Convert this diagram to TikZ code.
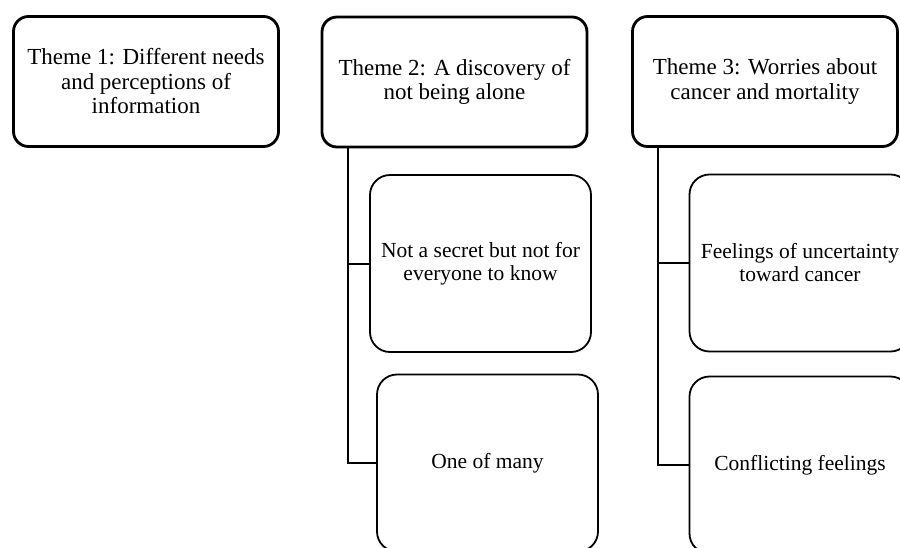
\documentclass[tikz,border=0pt]{standalone}
\usepackage{fontspec}
\setmainfont{Liberation Serif}
\begin{document}
\begin{tikzpicture}[x=1pt,y=-1pt,
  theme/.style={draw,line width=2.8pt,rounded corners=15pt,align=center,
    minimum width=265pt,minimum height=130pt,inner sep=0pt,
    font=\fontsize{23}{24.5}\selectfont},
  sub/.style={draw,line width=1.8pt,rounded corners=20pt,align=center,
    minimum width=221pt,minimum height=177pt,inner sep=0pt,
    font=\fontsize{21.5}{23}\selectfont},
  conn/.style={-,line width=2pt}]

\clip (0,0) rectangle (900,547);

%%主题框
\node [theme] (t1) at (146,81.5) {Theme 1: Different needs\\and perceptions of\\information};
\node [theme] (t2) at (454.5,82) {Theme 2: A discovery of\\not being alone};
\node [theme] (t3) at (765,81.5) {Theme 3: Worries about\\cancer and mortality};

%%子主题框
\node [sub] (s21) at (480.5,263.5) {Not a secret but not for\\everyone to know};
\node [sub] (s22) at (487.5,463) {One of many};
\node [sub] (s31) at (800,263) {Feelings of uncertainty\\toward cancer};
\node [sub] (s32) at (800,465) {Conflicting feelings};

%%连线
\draw [conn] ([xshift=27pt]t2.south west) |- (s21.west);
\draw [conn] ([xshift=27pt]t2.south west) |- (s22.west);
\draw [conn] ([xshift=27pt]t3.south west) |- (s31.west);
\draw [conn] ([xshift=27pt]t3.south west) |- (s32.west);

\end{tikzpicture}
\end{document}
